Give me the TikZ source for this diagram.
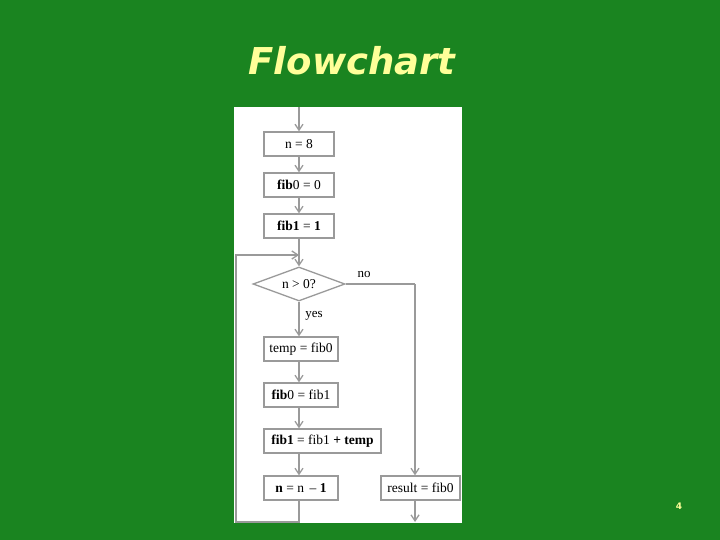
\documentclass[tikz,border=0pt]{standalone}
\usepackage{fontspec}
\setmainfont{Liberation Serif}
\newfontfamily\titlefont{DejaVu Sans}
\usetikzlibrary{shapes.geometric,arrows.meta}
\definecolor{bggreen}{HTML}{1A8420}
\definecolor{titleyellow}{HTML}{FFFF99}
\definecolor{linegray}{HTML}{9A9A9A}
\tikzset{
  stepbox/.style={draw=linegray, line width=1.3pt, fill=white, minimum height=24pt, inner sep=1pt, font=\fontsize{13.5}{14}\selectfont},
  decision/.style={diamond, draw=linegray, line width=1.3pt, fill=white, aspect=2.7, minimum width=92pt, minimum height=34pt, inner sep=0pt, font=\fontsize{13.5}{14}\selectfont},
  flow/.style={draw=linegray, line width=1.3pt, -{Straight Barb[length=6pt,width=8pt]}},
  plain/.style={draw=linegray, line width=1.3pt},
  lbl/.style={font=\fontsize{13}{14}\selectfont, inner sep=0pt}
}
\begin{document}
\begin{tikzpicture}[x=1pt,y=-1pt]
\useasboundingbox (0,0) rectangle (720,540);
\fill[bggreen] (0,0) rectangle (720,540);
\node[font=\titlefont\fontsize{37}{40}\selectfont\bfseries\itshape, text=titleyellow] (title) at (352,61) {Flowchart};
\node[font=\titlefont\fontsize{9}{10}\selectfont\bfseries, text=titleyellow] (pg) at (679,506) {4};
\fill[white] (234,107) rectangle (462,523);
\node[stepbox, minimum width=70pt] (n8) at (299,144) {n = 8};
\node[stepbox, minimum width=70pt] (f0) at (299,185) {\textbf{fib}0 = 0};
\node[stepbox, minimum width=70pt] (f1) at (299,226) {\textbf{fib1} = \textbf{1}};
\node[decision] (dia) at (299,284) {n > 0?};
\node[stepbox, minimum width=74pt] (temp) at (301,349) {temp = fib0};
\node[stepbox, minimum width=74pt] (f0b) at (301,395) {\textbf{fib}0 = fib1};
\node[stepbox, minimum width=117pt] (f1b) at (322.5,441) {\textbf{fib1} = fib1 \textbf{+ temp}};
\node[stepbox, minimum width=74pt] (nm) at (301,488) {\textbf{n} = n\, -- \textbf{1}};
\node[stepbox, minimum width=79pt] (res) at (420.5,488) {result = fib0};
\node[lbl] (no) at (364,275) {no};
\node[lbl] (yes) at (314,316) {yes};
\coordinate (top) at (299,107);
\coordinate (j) at (299,255);
\coordinate (lb) at (299,522);
\coordinate (ll) at (236,522);
\coordinate (lu) at (236,255);
\coordinate (nr) at (415,284);
\coordinate (rb) at (415,522);
\draw[flow] (top) -- (n8.north);
\draw[flow] (n8.south) -- (f0.north);
\draw[flow] (f0.south) -- (f1.north);
\draw[flow] (f1.south) -- (dia.north);
\draw[flow] (dia.south) -- (dia.south |- temp.north);
\draw[flow] (dia.south |- temp.south) -- (dia.south |- f0b.north);
\draw[flow] (dia.south |- f0b.south) -- (dia.south |- f1b.north);
\draw[flow] (dia.south |- f1b.south) -- (dia.south |- nm.north);
\draw[flow] (dia.south |- nm.south) -- (lb) -- (ll) -- (lu) -- (j);
\draw[plain] (dia.east) -- (nr);
\draw[flow] (nr) -- (nr |- res.north);
\draw[flow] (nr |- res.south) -- (rb);
\end{tikzpicture}
\end{document}
